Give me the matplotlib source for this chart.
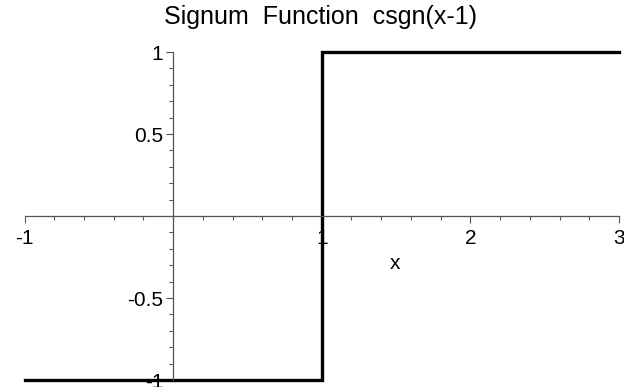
import matplotlib
matplotlib.use('Agg')
import matplotlib.pyplot as plt
import numpy as np
from matplotlib.ticker import MultipleLocator

plt.rcParams['font.family'] = ['Liberation Sans', 'DejaVu Sans']

# csgn(x-1): -1 left of the jump, +1 right of it
x_pts = [-1, 1, 1, 3]
y_pts = [-1, -1, 1, 1]
x_ticks = [-1, 1, 2, 3]
x_ticklabels = ['-1', '1', '2', '3']
y_ticks = [-1, -0.5, 0.5, 1]
y_ticklabels = ['-1', '-0.5', '0.5', '1']

fig = plt.figure(figsize=(6.24, 3.87), dpi=100)
ax = fig.add_axes([24.5 / 624, 7 / 387, (619 - 24.5) / 624, (380 - 52) / 387])

ax.plot(x_pts, y_pts, color='black', linewidth=2.4, clip_on=False,
        solid_joinstyle='miter')
ax.set_xlim(-1, 3)
ax.set_ylim(-1, 1)

# axes cross at the origin
for side in ['left', 'bottom']:
    ax.spines[side].set_position('zero')
    ax.spines[side].set_color('#555555')
    ax.spines[side].set_linewidth(0.9)
for side in ['right', 'top']:
    ax.spines[side].set_visible(False)

ax.set_xticks(x_ticks)
ax.set_xticklabels(x_ticklabels)
ax.set_yticks(y_ticks)
ax.set_yticklabels(y_ticklabels)
ax.xaxis.set_minor_locator(MultipleLocator(0.2))
ax.yaxis.set_minor_locator(MultipleLocator(0.1))
ax.tick_params(which='major', length=5, width=0.8, color='#555555',
               labelsize=15)
ax.tick_params(axis='x', which='major', pad=4)
ax.tick_params(axis='y', which='major', pad=2)
ax.tick_params(which='minor', length=3, width=0.8, color='#555555')

ax.text(1.49, -0.29, 'x', fontsize=15, ha='center', va='center')
fig.text(321 / 624, 1 - 17 / 387, 'Signum  Function  csgn(x-1)',
         fontsize=18, ha='center', va='center')

fig.savefig('out.png', dpi=100)
